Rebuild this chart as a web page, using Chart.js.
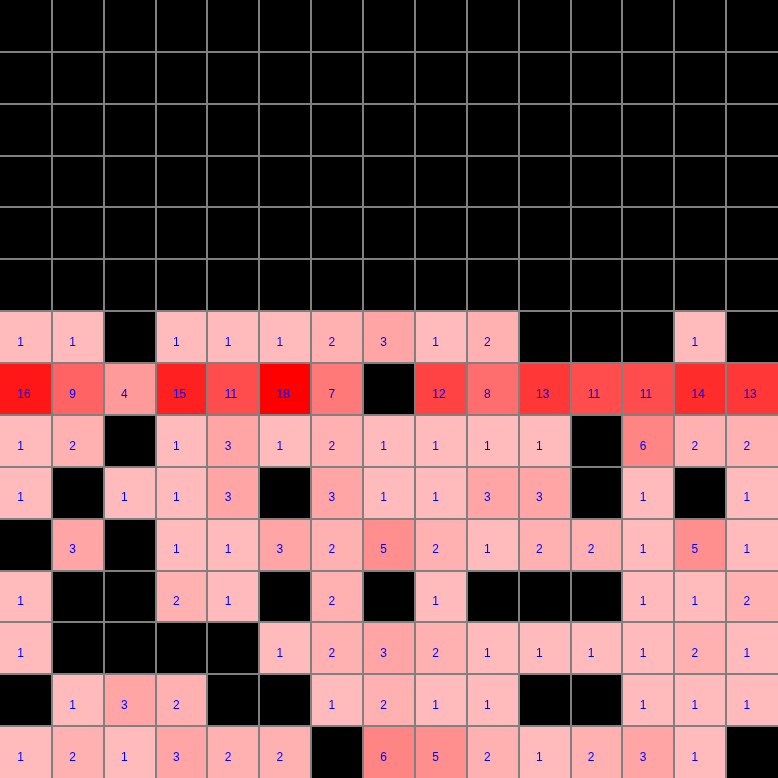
<!DOCTYPE html>
<html>
<head>
<meta charset="utf-8">
<script src="https://cdn.jsdelivr.net/npm/chart.js@4/dist/chart.umd.min.js"></script>
<style>
  html, body { margin: 0; padding: 0; background: #000; }
  #wrap { width: 778px; height: 778px; }
</style>
</head>
<body>
<div id="wrap"><canvas id="c" width="778" height="778"></canvas></div>
<script>
// 15 x 15 grid of counts; null = empty (black) cell
const columns = [0,1,2,3,4,5,6,7,8,9,10,11,12,13,14];
const row0  = [null,null,null,null,null,null,null,null,null,null,null,null,null,null,null];
const row1  = [null,null,null,null,null,null,null,null,null,null,null,null,null,null,null];
const row2  = [null,null,null,null,null,null,null,null,null,null,null,null,null,null,null];
const row3  = [null,null,null,null,null,null,null,null,null,null,null,null,null,null,null];
const row4  = [null,null,null,null,null,null,null,null,null,null,null,null,null,null,null];
const row5  = [null,null,null,null,null,null,null,null,null,null,null,null,null,null,null];
const row6  = [1,1,null,1,1,1,2,3,1,2,null,null,null,1,null];
const row7  = [16,9,4,15,11,18,7,null,12,8,13,11,11,14,13];
const row8  = [1,2,null,1,3,1,2,1,1,1,1,null,6,2,2];
const row9  = [1,null,1,1,3,null,3,1,1,3,3,null,1,null,1];
const row10 = [null,3,null,1,1,3,2,5,2,1,2,2,1,5,1];
const row11 = [1,null,null,2,1,null,2,null,1,null,null,null,1,1,2];
const row12 = [1,null,null,null,null,1,2,3,2,1,1,1,1,2,1];
const row13 = [null,1,3,2,null,null,1,2,1,1,null,null,1,1,1];
const row14 = [1,2,1,3,2,2,null,6,5,2,1,2,3,1,null];

const rows = [row0,row1,row2,row3,row4,row5,row6,row7,row8,row9,row10,row11,row12,row13,row14];
const maxVal = Math.max(...rows.flat().filter(v => v !== null));

function cellColor(v) {
  const g = Math.round(187 * (maxVal - v) / (maxVal - 1));
  return `rgb(255,${g},${g})`;
}

const datasets = rows.map((row, r) => {
  const pts = [];
  const cols = [];
  row.forEach((v, c) => {
    if (v !== null) {
      pts.push({ x: columns[c] + 0.5, y: [r, r + 1], v: v });
      cols.push(cellColor(v));
    }
  });
  return {
    label: 'row ' + r,
    data: pts,
    backgroundColor: cols,
    borderWidth: 0,
    barPercentage: 1.0,
    categoryPercentage: 1.0,
    grouped: false
  };
});

const labelPlugin = {
  id: 'cellLabels',
  afterDatasetsDraw(chart) {
    const ctx = chart.ctx;
    const xs = chart.scales.x, ys = chart.scales.y;
    ctx.save();
    ctx.font = '12px "Liberation Sans", Arial, sans-serif';
    ctx.fillStyle = '#0000ff';
    ctx.textAlign = 'left';
    ctx.textBaseline = 'alphabetic';
    rows.forEach((row, r) => {
      row.forEach((v, c) => {
        if (v === null) return;
        const x0 = xs.getPixelForValue(columns[c]);
        const x1 = xs.getPixelForValue(columns[c] + 1);
        const y0 = ys.getPixelForValue(r);
        const y1 = ys.getPixelForValue(r + 1);
        const w = x1 - x0, h = y1 - y0;
        ctx.fillText(String(v), x0 + w / 3, y0 + h * 2 / 3);
      });
    });
    ctx.restore();
  }
};

const bgPlugin = {
  id: 'bg',
  beforeDraw(chart) {
    const ctx = chart.ctx;
    ctx.save();
    ctx.fillStyle = '#000';
    ctx.fillRect(0, 0, chart.width, chart.height);
    ctx.restore();
  }
};

const gridColor = (c) => (c.tick && (c.tick.value === 0 || c.tick.value === 15)) ? 'rgba(0,0,0,0)' : '#808080';

new Chart(document.getElementById('c'), {
  type: 'bar',
  data: { datasets: datasets },
  options: {
    responsive: false,
    animation: false,
    layout: { padding: 0 },
    plugins: { legend: { display: false }, tooltip: { enabled: false } },
    scales: {
      x: {
        type: 'linear', min: 0, max: 15, offset: false,
        ticks: { display: false, stepSize: 1 },
        grid: { color: gridColor, lineWidth: 2, drawTicks: false, offset: false, z: 1 },
        border: { display: false }
      },
      y: {
        type: 'linear', min: 0, max: 15, reverse: true, offset: false,
        ticks: { display: false, stepSize: 1 },
        grid: { color: gridColor, lineWidth: 2, drawTicks: false, offset: false, z: 1 },
        border: { display: false }
      }
    }
  },
  plugins: [bgPlugin, labelPlugin]
});
</script>
</body>
</html>
